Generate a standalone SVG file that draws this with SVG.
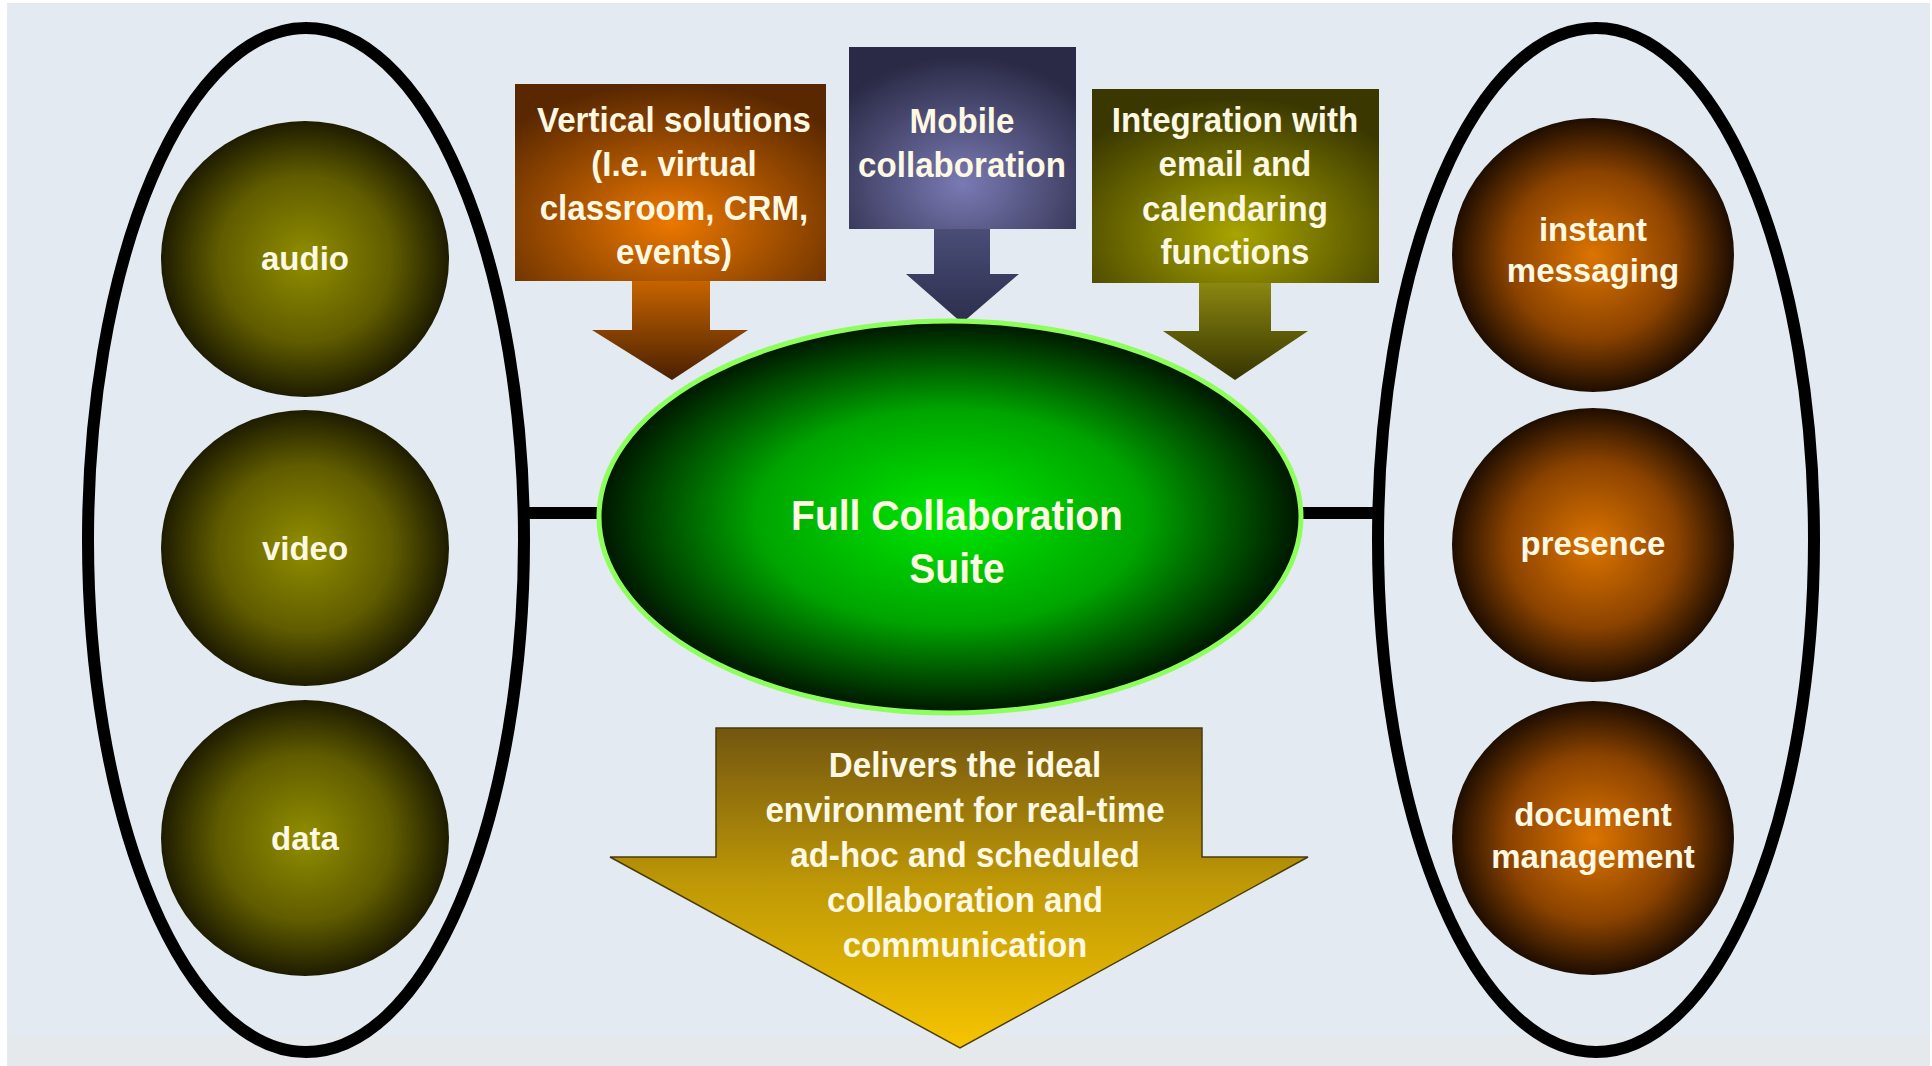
<svg xmlns="http://www.w3.org/2000/svg" width="1932" height="1066" viewBox="0 0 1932 1066">
<style>
.big{fill:none;stroke:#000;stroke-width:12}
.conn{stroke:#000;stroke-width:12}
.t{font-family:"Liberation Sans",Arial,sans-serif;font-weight:bold;fill:#fff8e2;text-anchor:middle}
.bx{font-size:36px}
.ct{font-size:33px}
.ft{font-size:42px}
</style>
<defs>
<radialGradient id="gOlive" cx="0.5" cy="0.5" r="0.5"><stop offset="0" stop-color="#918e00"/><stop offset="0.6" stop-color="#605c00"/><stop offset="1" stop-color="#1e1c00"/></radialGradient>
<radialGradient id="gOrange" cx="0.5" cy="0.5" r="0.5"><stop offset="0" stop-color="#dc7400"/><stop offset="0.6" stop-color="#8c4300"/><stop offset="1" stop-color="#1e0d00"/></radialGradient>
<radialGradient id="gGreen" cx="0.5" cy="0.5" r="0.5"><stop offset="0" stop-color="#00e800"/><stop offset="0.55" stop-color="#00a400"/><stop offset="1" stop-color="#001600"/></radialGradient>
<radialGradient id="gVert" cx="0.5" cy="0.7" r="0.7"><stop offset="0" stop-color="#ec7800"/><stop offset="1" stop-color="#5a2800"/></radialGradient>
<radialGradient id="gMob" cx="0.5" cy="0.75" r="0.7"><stop offset="0" stop-color="#7a7ab4"/><stop offset="1" stop-color="#2a2a46"/></radialGradient>
<radialGradient id="gInt" cx="0.5" cy="0.75" r="0.7"><stop offset="0" stop-color="#a8a400"/><stop offset="1" stop-color="#3a3800"/></radialGradient>
<linearGradient id="aVert" x1="0" y1="0" x2="0" y2="1"><stop offset="0" stop-color="#c86400"/><stop offset="1" stop-color="#4a2000"/></linearGradient>
<linearGradient id="aMob" x1="0" y1="0" x2="0" y2="1"><stop offset="0" stop-color="#4a4e78"/><stop offset="1" stop-color="#2c2e4c"/></linearGradient>
<linearGradient id="aInt" x1="0" y1="0" x2="0" y2="1"><stop offset="0" stop-color="#8c8812"/><stop offset="1" stop-color="#363400"/></linearGradient>
<linearGradient id="aBot" x1="0" y1="0" x2="0" y2="1"><stop offset="0" stop-color="#735610"/><stop offset="0.5" stop-color="#c09a06"/><stop offset="1" stop-color="#f6c400"/></linearGradient>
</defs>

<g id="background">
<rect x="0" y="0" width="1932" height="1066" fill="#ffffff"/>
<rect x="7" y="3" width="1923" height="1063" fill="#e3eaf2"/>
<rect x="7" y="1036" width="1923" height="30" fill="#e6e9ec"/>
</g>

<g id="connectors">
<line class="conn" x1="524" y1="513" x2="602" y2="513"/>
<line class="conn" x1="1298" y1="513" x2="1378" y2="513"/>
</g>

<g id="left-group">
<ellipse class="big" cx="306" cy="540" rx="218" ry="512"/>
</g>
<g id="right-group">
<ellipse class="big" cx="1596" cy="540" rx="218" ry="512"/>
</g>

<g id="audio"><ellipse cx="305" cy="259" rx="144" ry="138" fill="url(#gOlive)"/><text class="t ct" x="305" y="270">audio</text></g>
<g id="video"><ellipse cx="305" cy="548" rx="144" ry="138" fill="url(#gOlive)"/><text class="t ct" x="305" y="560">video</text></g>
<g id="data"><ellipse cx="305" cy="838" rx="144" ry="138" fill="url(#gOlive)"/><text class="t ct" x="305" y="850">data</text></g>

<g id="instant-messaging"><ellipse cx="1593" cy="255" rx="141" ry="137" fill="url(#gOrange)"/><text class="t ct" x="1593" y="241">instant</text><text class="t ct" x="1593" y="282">messaging</text></g>
<g id="presence"><ellipse cx="1593" cy="545" rx="141" ry="137" fill="url(#gOrange)"/><text class="t ct" x="1593" y="555">presence</text></g>
<g id="document-management"><ellipse cx="1593" cy="838" rx="141" ry="137" fill="url(#gOrange)"/><text class="t ct" x="1593" y="826">document</text><text class="t ct" x="1593" y="868">management</text></g>

<g id="vertical-solutions">
<polygon points="632,280 710,280 710,330 748,330 672,380 592,330 632,330" fill="url(#aVert)"/>
<rect x="515" y="84" width="311" height="197" fill="url(#gVert)"/>
<g transform="matrix(0.92,0,0,1,53.9,0)">
<text class="t bx" x="674" y="132">Vertical solutions</text>
<text class="t bx" x="674" y="176">(I.e. virtual</text>
<text class="t bx" x="674" y="220">classroom, CRM,</text>
<text class="t bx" x="674" y="264">events)</text>
</g>
</g>

<g id="mobile-collaboration">
<polygon points="934,228 990,228 990,274 1019,274 962,323 906,274 934,274" fill="url(#aMob)"/>
<rect x="849" y="47" width="227" height="182" fill="url(#gMob)"/>
<g transform="matrix(0.92,0,0,1,77,0)">
<text class="t bx" x="962" y="133">Mobile</text>
<text class="t bx" x="962" y="177">collaboration</text>
</g>
</g>

<g id="integration">
<polygon points="1199,282 1271,282 1271,331 1308,331 1235,380 1163,331 1199,331" fill="url(#aInt)"/>
<rect x="1092" y="89" width="287" height="194" fill="url(#gInt)"/>
<g transform="matrix(0.92,0,0,1,98.8,0)">
<text class="t bx" x="1235" y="132">Integration with</text>
<text class="t bx" x="1235" y="176">email and</text>
<text class="t bx" x="1235" y="221">calendaring</text>
<text class="t bx" x="1235" y="264">functions</text>
</g>
</g>

<g id="full-collaboration-suite">
<ellipse cx="950" cy="517" rx="351" ry="196" fill="url(#gGreen)" stroke="#8cff5c" stroke-width="5"/>
<g transform="matrix(0.93,0,0,1,67,0)">
<text class="t ft" x="957" y="530" fill="#f2ffe8">Full Collaboration</text>
<text class="t ft" x="957" y="583">Suite</text>
</g>
</g>

<g id="delivers">
<polygon points="716,728 1202,728 1202,857 1308,857 960,1048 610,857 716,857" fill="url(#aBot)" stroke="#4a3c08" stroke-width="1.5"/>
<g transform="matrix(0.92,0,0,1,77.2,0)">
<text class="t bx" x="965" y="777">Delivers the ideal</text>
<text class="t bx" x="965" y="822">environment for real-time</text>
<text class="t bx" x="965" y="867">ad-hoc and scheduled</text>
<text class="t bx" x="965" y="912">collaboration and</text>
<text class="t bx" x="965" y="957">communication</text>
</g>
</g>
</svg>
